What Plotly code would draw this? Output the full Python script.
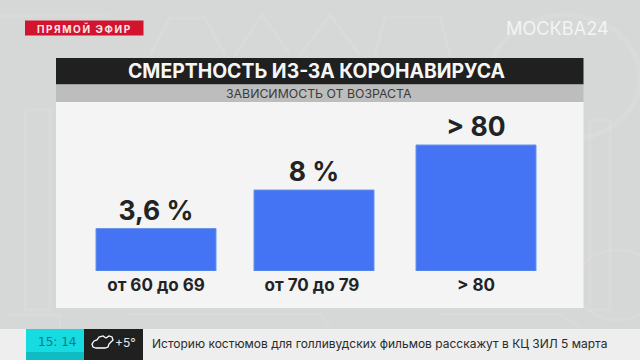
import plotly.graph_objects as go

categories = ["от 60 до 69", "от 70 до 79", "> 80"]
# Bar heights as drawn in the picture (the broadcast graphic is not to scale), in % units of the 8 % bar
bar_heights = [4.2, 8.0, 12.45]
value_labels = ["3,6 %", "8 %", "> 80"]
title_text = "СМЕРТНОСТЬ ИЗ-ЗА КОРОНАВИРУСА"
subtitle_text = "ЗАВИСИМОСТЬ ОТ ВОЗРАСТА"
live_text = "ПРЯМОЙ ЭФИР"
ticker_text = "Историю костюмов для голливудских фильмов расскажут в КЦ ЗИЛ 5 марта"

W, H = 640, 360
FONT = "Inter"
BG = "#d6d8d7"
INK = "#222322"


def X(p):
    return p / W


def Y(p):
    return 1 - p / H


def rect(x0, y0, x1, y1, color):
    return dict(type="rect", xref="paper", yref="paper", layer="below",
                x0=X(x0), x1=X(x1), y0=Y(y0), y1=Y(y1),
                fillcolor=color, line_width=0)


def ghost(path_points, width=3):
    d = "M" + " L".join(f"{X(a):.4f},{Y(b):.4f}" for a, b in path_points)
    return dict(type="path", xref="paper", yref="paper", layer="below", path=d,
                line=dict(color="rgba(255,255,255,0.09)", width=width))


def ring(x0, y0, x1, y1, width=4, alpha=0.09):
    return dict(type="circle", xref="paper", yref="paper", layer="below",
                x0=X(x0), x1=X(x1), y0=Y(y0), y1=Y(y1),
                line=dict(color=f"rgba(255,255,255,{alpha})", width=width))


def note(x, y, text, size, color=INK, bold=False, anchor="center", family=FONT):
    return dict(xref="paper", yref="paper", x=X(x), y=Y(y), text=f"<b>{text}</b>" if bold else text,
                showarrow=False, xanchor=anchor, yanchor="middle",
                font=dict(size=size, color=color, family=family))


fig = go.Figure(go.Bar(
    x=categories,
    y=bar_heights,
    width=0.75,
    offset=[-0.375, -0.3875, -0.375],
    marker=dict(color="#4474f4", line=dict(color="#6b93e6", width=1)),
    text=[f"<b>{t}</b>" for t in value_labels],
    textposition="outside",
    textangle=0,
    cliponaxis=False,
    textfont=dict(size=26.5, color=INK, family=FONT),
    hoverinfo="skip",
))

shapes = [
    # faint decoration behind the panel
    ghost([(150, 55), (170, 18), (205, 18), (225, 55)]),
    ghost([(235, 55), (262, 15), (290, 55)]),
    ghost([(300, 55), (330, 15), (360, 55)]),
    ghost([(375, 55), (385, 17), (440, 17), (450, 55)]),
    ghost([(0, 16), (110, 16)]),
    ghost([(25, 110), (50, 110), (50, 310), (25, 310), (25, 110)]),
    ghost([(590, 120), (610, 120), (610, 310), (590, 310), (590, 120)]),
    ghost([(8, 315), (60, 315), (60, 328)], 2),
    ghost([(130, 314), (320, 314), (330, 328)], 2),
    ghost([(440, 314), (560, 314), (580, 328)], 2),
    ring(490, 15, 640, 140, 5),
    ring(575, 250, 660, 320, 3, 0.08),
    # panel
    rect(56, 58, 583.5, 84.5, "#1f201f"),
    rect(56, 84.5, 583.5, 102, "#bcbdbc"),
    rect(56, 102, 583.5, 308, "#f3f4f3"),
    # live tag
    rect(25, 20.5, 143.5, 35.5, "#d2142f"),
    # ticker
    rect(0, 329, 640, 360, "#edeeed"),
    rect(26, 329, 84, 352, "#16dbe0"),
    rect(26, 352, 84, 360, "#10bcc4"),
    rect(84, 329, 143, 360, "#1f201f"),
    # weather cloud
    dict(type="path", xref="paper", yref="paper", layer="above",
         path=("M" + " L".join(f"{X(a):.4f},{Y(b):.4f}" for a, b in [
             (96, 348), (93, 347), (92, 344), (94, 341), (97, 340), (99, 337), (103, 336),
             (106, 338), (109, 336), (112, 337), (113, 340), (111, 342), (109, 344), (108, 347),
             (105, 348), (96, 348)])),
         line=dict(color="#ffffff", width=1.3)),
]

annotations = [
    note(83.5, 28.5, "\u2009".join(live_text), 10, "#f7e6e8", True),
    note(557, 28, "МОСКВА24", 18.2, "rgba(255,255,255,0.72)"),
    note(317, 71.5, title_text, 19.4, "#f6f6f6", True),
    note(319, 94, subtitle_text, 12.3, "#3a3b3a"),
    note(57, 342, "15: 14", 12, "#0b7c86", family="DejaVu Sans"),
    note(125, 342, "+5°", 12, "#e8e8e8"),
    note(150, 343, ticker_text, 12, "#2a2b2a", anchor="left"),
]

fig.update_layout(
    width=W, height=H,
    autosize=False,
    margin=dict(l=0, r=0, t=0, b=0),
    paper_bgcolor=BG,
    plot_bgcolor="rgba(0,0,0,0)",
    showlegend=False,
    shapes=shapes,
    annotations=annotations,
    xaxis=dict(
        domain=[X(76), X(556)],
        type="category",
        range=[-0.5, 2.5],
        tickmode="array",
        tickvals=[0, 0.975, 2],
        ticktext=[f"<b>{c}</b>" for c in categories],
        tickfont=dict(size=17, color=INK, family=FONT),
        ticks="",
        ticklen=0,
        ticklabelstandoff=2,
        showgrid=False,
        showline=False,
        zeroline=False,
    ),
    yaxis=dict(
        domain=[Y(271), Y(102)],
        range=[0, 16.7],
        visible=False,
    ),
)

fig.write_html(
    "out.html",
    config={"displayModeBar": False},
    post_script="document.body.style.margin='0';document.documentElement.style.overflow='hidden';",
)
